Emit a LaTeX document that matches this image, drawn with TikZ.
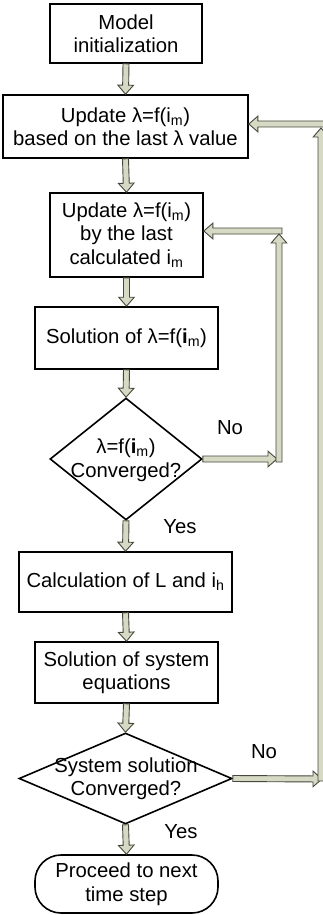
\documentclass[tikz,border=0pt]{standalone}
\usepackage{fontspec}
\setmainfont{Liberation Sans}
\usetikzlibrary{shapes.geometric,calc}
\definecolor{arrfill}{RGB}{214,218,196}
\definecolor{arrdraw}{RGB}{70,72,60}
\def\sw{3pt}
\def\hw{7.8pt}
\def\hl{9pt}
\newcommand\barr[2]{%
\draw[barrow] let \p1=#1, \p2=#2, \n1={veclen(\x2-\x1,\y2-\y1)}, \n2={(\x2-\x1)/\n1}, \n3={(\y2-\y1)/\n1} in
 ({\x1-\n3*\sw},{\y1+\n2*\sw}) --
 ({\x2-\n2*\hl-\n3*\sw},{\y2-\n3*\hl+\n2*\sw}) --
 ({\x2-\n2*\hl-\n3*\hw},{\y2-\n3*\hl+\n2*\hw}) --
 (\p2) --
 ({\x2-\n2*\hl+\n3*\hw},{\y2-\n3*\hl-\n2*\hw}) --
 ({\x2-\n2*\hl+\n3*\sw},{\y2-\n3*\hl-\n2*\sw}) --
 ({\x1+\n3*\sw},{\y1-\n2*\sw}) -- cycle;}
\tikzset{
  barrow/.style={fill=arrfill,draw=arrdraw,line width=0.9pt,line join=miter},
  box/.style={draw=black,line width=1.6pt,fill=white,inner sep=0pt,align=center,
    font=\fontsize{20.3}{23.5}\selectfont},
  dia/.style={draw=black,line width=1.6pt,fill=white,diamond,inner sep=0pt},
  txt/.style={inner sep=0pt,align=center,font=\fontsize{20.3}{23.5}\selectfont},
}
\begin{document}
\begin{tikzpicture}[x=1pt,y=-1pt]
\clip (0,0) rectangle (323,915);
\fill[white] (0,0) rectangle (323,915);
\node[box,minimum width=152,minimum height=59] (b1) at (126,33.5) {Model\\initialization};
\node[box,minimum width=245,minimum height=63] (b2) at (125.5,126.5) {Update λ=f(i\textsubscript{m})\\based on the last λ value};
\node[box,minimum width=153,minimum height=84] (b3) at (126.5,235) {Update λ=f(i\textsubscript{m})\\by the last\\calculated i\textsubscript{m}};
\node[box,minimum width=183,minimum height=62] (b4) at (126.5,338) {Solution of λ=f({\bfseries i}\textsubscript{m})};
\node[dia,minimum width=152,minimum height=122] (d1) at (126,459) {};
\node[txt] (d1t) at (126,460) {λ=f({\bfseries i}\textsubscript{m})\\Converged?};
\node[box,minimum width=213,minimum height=60] (b5) at (125.5,582) {Calculation of L and i\textsubscript{h}};
\node[box,minimum width=183,minimum height=61] (b6) at (126.5,672.5) {Solution of system\\equations};
\node[dia,minimum width=213,minimum height=91] (d2) at (125.5,778.5) {};
\node[txt] (d2t) at (126,778.5) {System solution\\Converged?};
\node[box,rounded corners=26pt,minimum width=183,minimum height=58] (t) at (126.5,884) {Proceed to next\\time step};
% labels
\node[txt] (no1) at (230,428) {No};
\node[txt] (yes1) at (180,527) {Yes};
\node[txt] (no2) at (264,752) {No};
\node[txt] (yes2) at (181,832) {Yes};
% main arrows
\barr{(b1.south)}{(b2.north)}
\barr{(b2.south)}{(b3.north)}
\barr{(b3.south)}{(b4.north)}
\barr{(b4.south)}{(d1.north)}
\barr{(d1.south)}{(b5.north)}
\barr{(b5.south)}{(b6.north)}
\barr{(b6.south)}{(d2.north)}
\barr{(d2.south)}{(t.north)}
% inner loop
\coordinate (l1a) at (277,459);
\coordinate (l1b) at (279,462);
\coordinate (l1c) at (279,234);
\coordinate (l1d) at (282,231);
\barr{(l1d)}{(b3.east |- l1d)}
\barr{(d1.east)}{(l1a)}
\barr{(l1b)}{(l1c)}
% outer loop
\coordinate (l2a) at (322,779);
\coordinate (l2b) at (321,781);
\coordinate (l2c) at (321,128);
\coordinate (l2d) at (325,124);
\barr{(l2d)}{(b2.east |- l2d)}
\barr{(d2.east)}{(l2a)}
\barr{(l2b)}{(l2c)}
\end{tikzpicture}
\end{document}
